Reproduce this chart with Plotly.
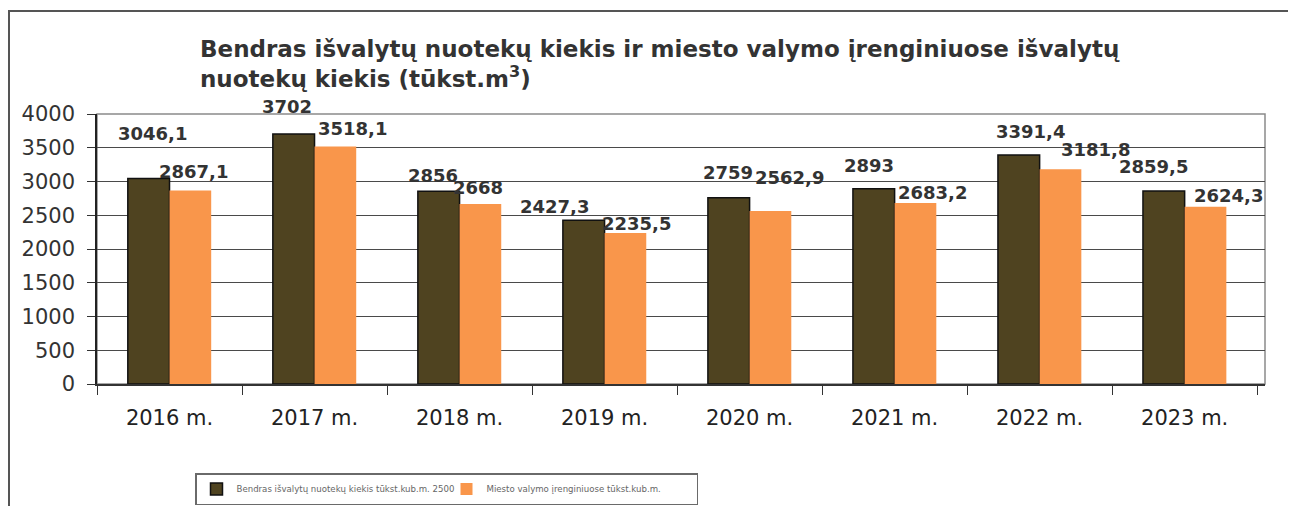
import plotly.graph_objects as go

categories = ["2016 m.", "2017 m.", "2018 m.", "2019 m.", "2020 m.", "2021 m.", "2022 m.", "2023 m."]
total_vals = [3046.1, 3702, 2856, 2427.3, 2759, 2893, 3391.4, 2859.5]
city_vals = [2867.1, 3518.1, 2668, 2235.5, 2562.9, 2683.2, 3181.8, 2624.3]
total_labels = ["3046,1", "3702", "2856", "2427,3", "2759", "2893", "3391,4", "2859,5"]
city_labels = ["2867,1", "3518,1", "2668", "2235,5", "2562,9", "2683,2", "3181,8", "2624,3"]
series_names = ["Bendras išvalytų nuotekų kiekis tūkst.kub.m. 2500", "Miesto valymo įrenginiuose tūkst.kub.m."]
y_ticks = [0, 500, 1000, 1500, 2000, 2500, 3000, 3500, 4000]

# label pixel offsets (style only)
total_dx = [4, -7, -6, -29, -1, -5, 12, -10]
total_dy = [45, 28, 16, 14, 25, 23, 24, 24]
city_dx = [3, 17, -2, 11, 19, 17, 35, 23]
city_dy = [19, 18, 16, 10, 34, 10, 20, 11]

DARK = "#4f4320"
ORANGE = "#f9964b"
FONT = "DejaVu Sans"

# page body has an 8px offset; figure is sized/positioned to compensate
W, H = 1288, 498
L, T = 89, 106
PW, PH = 1168, 270
R, B = W - L - PW, H - T - PH

fig = go.Figure()
fig.add_trace(go.Bar(x=categories, y=total_vals, name=series_names[0],
                     marker=dict(color=DARK, line=dict(color="#111111", width=1.5))))
fig.add_trace(go.Bar(x=categories, y=city_vals, name=series_names[1],
                     marker=dict(color=ORANGE, line=dict(width=0))))

bargap = 0.425
half = (1 - bargap) / 4
for i in range(len(categories)):
    fig.add_annotation(x=i - half, y=total_vals[i], text="<b>%s</b>" % total_labels[i],
                       showarrow=False, xref="x", yref="y", xshift=total_dx[i], yshift=total_dy[i],
                       font=dict(family=FONT, size=18, color="#333333"))
    fig.add_annotation(x=i + half, y=city_vals[i], text="<b>%s</b>" % city_labels[i],
                       showarrow=False, xref="x", yref="y", xshift=city_dx[i], yshift=city_dy[i],
                       font=dict(family=FONT, size=18, color="#333333"))

def px_x(p):
    return (p - 8 - L) / PW

def px_y(p):
    return (T + PH - (p - 8)) / PH

# plot frame and outer page border
fig.add_shape(type="rect", xref="paper", yref="paper", x0=0, x1=1, y0=0, y1=1,
              line=dict(color="#8a8a8a", width=1.5), layer="below")
fig.add_shape(type="rect", xref="paper", yref="paper", x0=px_x(9), x1=px_x(1293),
              y0=px_y(530), y1=px_y(11),
              line=dict(color="#555555", width=2))

fig.update_layout(
    width=W, height=H,
    margin=dict(l=L, r=R, t=T, b=B, autoexpand=False),
    paper_bgcolor="white", plot_bgcolor="white",
    barmode="group", bargap=bargap, bargroupgap=0,
    showlegend=True,
    title=dict(text="<b>Bendras išvalytų nuotekų kiekis ir miesto valymo įrenginiuose išvalytų<br>nuotekų kiekis (tūkst.m<sup>3</sup>)</b>",
               x=192 / W, xanchor="left", y=1 - 49 / H, yanchor="top",
               font=dict(family=FONT, size=23, color="#333333")),
    legend=dict(orientation="h", x=px_x(195), xanchor="left", y=px_y(473), yanchor="top",
                font=dict(family=FONT, size=8.6, color="#666666"),
                bordercolor="#6a6a6a", borderwidth=1.5, bgcolor="white",
                entrywidth=205, itemwidth=30, traceorder="normal"),
    xaxis=dict(type="category", tickson="boundaries", ticks="outside", ticklen=9,
               tickcolor="#333333", showline=True, linecolor="#333333", linewidth=1.5,
               ticklabelstandoff=14,
               tickfont=dict(family=FONT, size=21, color="#222222"), showgrid=False),
    yaxis=dict(range=[0, 4000], tickvals=y_ticks, ticks="outside", ticklen=8,
               tickcolor="#333333", showline=True, linecolor="#222222", linewidth=1.5,
               ticklabelstandoff=8,
               gridcolor="#4a4a4a", gridwidth=1.3, zeroline=False,
               tickfont=dict(family=FONT, size=21, color="#333333")),
)

fig.write_html("out.html")
